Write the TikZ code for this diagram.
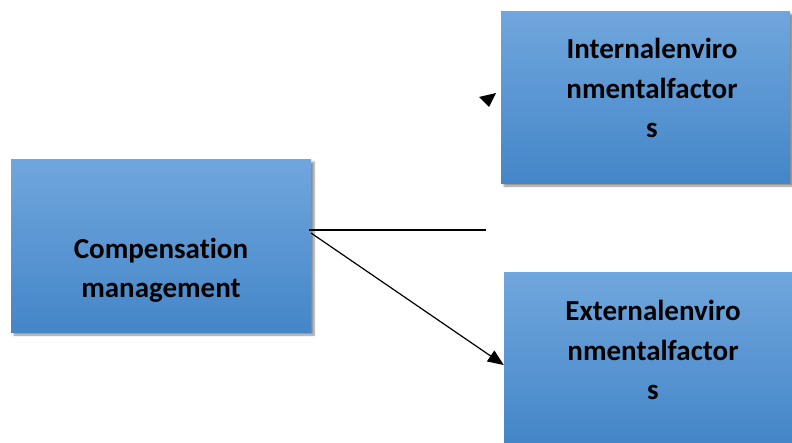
\documentclass[tikz,border=0pt]{standalone}
\usepackage{fontspec}
\setmainfont[Ligatures=NoCommon]{Carlito}
\usetikzlibrary{arrows.meta,shadows.blur}
\definecolor{boxtop}{RGB}{112,166,221}
\definecolor{boxbot}{RGB}{68,134,200}
\tikzset{
  factorbox/.style={rectangle, minimum width=#1, top color=boxtop, bottom color=boxbot,
    draw=none, inner sep=0pt,
    blur shadow={shadow xshift=3pt, shadow yshift=-3pt, shadow blur steps=6, shadow opacity=45}},
  boxtext/.style={font=\fontsize{29}{39.5}\selectfont\bfseries, align=center, inner sep=0pt, text=black},
  conn/.style={draw=black, line width=1.2pt},
}
\begin{document}
\begin{tikzpicture}[x=1pt,y=-1pt]
\useasboundingbox (0,0) rectangle (792,442);
\node[factorbox=300pt, minimum height=173pt] (comp) at (161,245.5) {};
\node[factorbox=289pt, minimum height=172pt] (int) at (645.5,97) {};
\node[factorbox=289pt, minimum height=172pt] (ext) at (648.5,358) {};
\node[boxtext] (compt) at (161,270.5) {Compensation\\management};
\node[boxtext] (intt) at (652,88) {Internalenviro\\nmentalfactor\\s};
\node[boxtext] (extt) at (653,350) {Externalenviro\\nmentalfactor\\s};
\coordinate (hstart) at (309,230);
\coordinate (hend) at (486,230);
\coordinate (astart) at (311,233);
\coordinate (aend) at (ext.west |- 0,365);
\draw[conn] (hstart) -- (hend);
\draw[conn, -{Triangle[length=16pt,width=13pt]}] (astart) -- (aend);
\coordinate (t1) at (479,97);
\coordinate (t2) at (496,93);
\coordinate (t3) at (489,107);
\fill[black] (t1) -- (t2) -- (t3) -- cycle;
\end{tikzpicture}
\end{document}
